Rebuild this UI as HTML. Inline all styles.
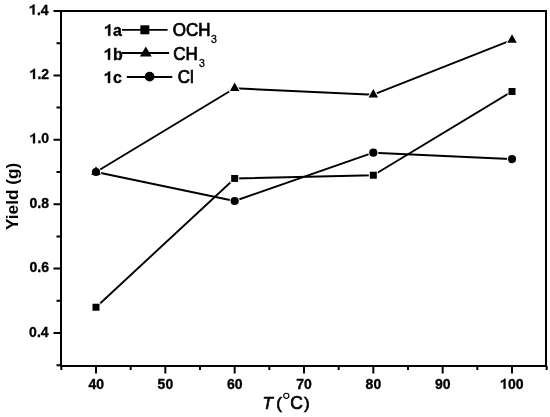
<!DOCTYPE html>
<html><head><meta charset="utf-8"><style>
html,body{margin:0;padding:0;background:#fff;}
body{width:550px;height:417px;overflow:hidden;}
svg{display:block;will-change:transform;}
text{font-family:"Liberation Sans",sans-serif;fill:#000;}
</style></head><body>
<svg width="550" height="417" viewBox="0 0 550 417">
<path d="M61.0 10.0V367.0M60.0 11.0H547.0M546.0 10.0V367.0M60.0 366.0H547.0" stroke="#000" stroke-width="2.0" fill="none"/>
<path d="M56.5 365.20H61.0M53.5 333.00H61.0M56.5 300.80H61.0M53.5 268.60H61.0M56.5 236.40H61.0M53.5 204.20H61.0M56.5 172.00H61.0M53.5 139.80H61.0M56.5 107.60H61.0M53.5 75.40H61.0M56.5 43.20H61.0M53.5 11.00H61.0M61.33 366.0V370M96.00 366.0V373.5M130.67 366.0V370M165.33 366.0V373.5M200.00 366.0V370M234.67 366.0V373.5M269.33 366.0V370M304.00 366.0V373.5M338.67 366.0V370M373.33 366.0V373.5M408.00 366.0V370M442.67 366.0V373.5M477.33 366.0V370M512.00 366.0V373.5M546.67 366.0V370" stroke="#000" stroke-width="2.0" fill="none"/>
<path transform="translate(29.11 14.50) scale(0.00684 -0.00684)" d="M505 0L785 0L785 1466L600 1466C560 1380 460 1270 300 1195C230 1165 170 1150 105 1135L105 880C260 930 400 1010 505 1090Z" fill="#000" stroke="#000" stroke-width="51.2"/>
<text transform="translate(36.90 14.50) scale(1 1.04)" style="font-size:14px;font-weight:bold;font-style:normal" stroke="#000" stroke-width="0.35">.4</text>
<path transform="translate(29.60 78.90) scale(0.00684 -0.00684)" d="M505 0L785 0L785 1466L600 1466C560 1380 460 1270 300 1195C230 1165 170 1150 105 1135L105 880C260 930 400 1010 505 1090Z" fill="#000" stroke="#000" stroke-width="51.2"/>
<text transform="translate(37.39 78.90) scale(1 1.04)" style="font-size:14px;font-weight:bold;font-style:normal" stroke="#000" stroke-width="0.35">.2</text>
<path transform="translate(29.61 143.30) scale(0.00684 -0.00684)" d="M505 0L785 0L785 1466L600 1466C560 1380 460 1270 300 1195C230 1165 170 1150 105 1135L105 880C260 930 400 1010 505 1090Z" fill="#000" stroke="#000" stroke-width="51.2"/>
<text transform="translate(37.40 143.30) scale(1 1.04)" style="font-size:14px;font-weight:bold;font-style:normal" stroke="#000" stroke-width="0.35">.0</text>
<text transform="translate(29.47 207.70) scale(1 1.04)" style="font-size:14px;font-weight:bold;font-style:normal" stroke="#000" stroke-width="0.35">0.8</text>
<text transform="translate(29.54 272.10) scale(1 1.04)" style="font-size:14px;font-weight:bold;font-style:normal" stroke="#000" stroke-width="0.35">0.6</text>
<text transform="translate(29.11 336.50) scale(1 1.04)" style="font-size:14px;font-weight:bold;font-style:normal" stroke="#000" stroke-width="0.35">0.4</text>
<text transform="translate(88.39 388.70) scale(1 1.04)" style="font-size:14px;font-weight:bold;font-style:normal" stroke="#000" stroke-width="0.35">40</text>
<text transform="translate(157.62 388.70) scale(1 1.04)" style="font-size:14px;font-weight:bold;font-style:normal" stroke="#000" stroke-width="0.35">50</text>
<text transform="translate(226.91 388.70) scale(1 1.04)" style="font-size:14px;font-weight:bold;font-style:normal" stroke="#000" stroke-width="0.35">60</text>
<text transform="translate(296.20 388.70) scale(1 1.04)" style="font-size:14px;font-weight:bold;font-style:normal" stroke="#000" stroke-width="0.35">70</text>
<text transform="translate(365.61 388.70) scale(1 1.04)" style="font-size:14px;font-weight:bold;font-style:normal" stroke="#000" stroke-width="0.35">80</text>
<text transform="translate(434.92 388.70) scale(1 1.04)" style="font-size:14px;font-weight:bold;font-style:normal" stroke="#000" stroke-width="0.35">90</text>
<path transform="translate(500.17 388.70) scale(0.00684 -0.00684)" d="M505 0L785 0L785 1466L600 1466C560 1380 460 1270 300 1195C230 1165 170 1150 105 1135L105 880C260 930 400 1010 505 1090Z" fill="#000" stroke="#000" stroke-width="51.2"/>
<text transform="translate(507.96 388.70) scale(1 1.04)" style="font-size:14px;font-weight:bold;font-style:normal" stroke="#000" stroke-width="0.35">00</text>
<text transform="translate(17.60 230.09) rotate(-90)" style="font-size:17.25px;font-weight:bold;font-style:normal">Yield</text>
<text transform="translate(17.60 184.65) rotate(-90)" style="font-size:17px;font-weight:bold;font-style:normal">(g)</text>
<text x="262.57" y="408.80" style="font-size:17px;font-weight:normal;font-style:italic" stroke="#000" stroke-width="0.7">T</text>
<text x="276.25" y="409.20" style="font-size:17px;font-weight:normal;font-style:normal" stroke="#000" stroke-width="0.7">(</text>
<circle cx="286.3" cy="395.8" r="2.6" fill="none" stroke="#000" stroke-width="1.1"/>
<text x="290.31" y="408.80" style="font-size:17.5px;font-weight:normal;font-style:normal" stroke="#000" stroke-width="0.7">C</text>
<text x="304.00" y="409.20" style="font-size:17px;font-weight:normal;font-style:normal" stroke="#000" stroke-width="0.7">)</text>
<polyline points="96.00,307.24 234.67,178.44 373.33,175.22 512.00,91.50" stroke="#000" stroke-width="1.9" fill="none" stroke-linejoin="round"/>
<polyline points="96.00,172.00 234.67,88.28 373.33,94.72 512.00,39.98" stroke="#000" stroke-width="1.9" fill="none" stroke-linejoin="round"/>
<polyline points="96.00,172.00 234.67,200.98 373.33,152.68 512.00,159.12" stroke="#000" stroke-width="1.9" fill="none" stroke-linejoin="round"/>
<rect x="92.50" y="303.74" width="7" height="7" fill="#fff" stroke="#fff" stroke-width="2.0"/>
<rect x="231.17" y="174.94" width="7" height="7" fill="#fff" stroke="#fff" stroke-width="2.0"/>
<rect x="369.83" y="171.72" width="7" height="7" fill="#fff" stroke="#fff" stroke-width="2.0"/>
<rect x="508.50" y="88.00" width="7" height="7" fill="#fff" stroke="#fff" stroke-width="2.0"/>
<circle cx="96.00" cy="172.00" r="5.1" fill="#fff"/>
<circle cx="234.67" cy="200.98" r="5.1" fill="#fff"/>
<circle cx="373.33" cy="152.68" r="5.1" fill="#fff"/>
<circle cx="512.00" cy="159.12" r="5.1" fill="#fff"/>
<path d="M96.00 166.24L100.80 174.84L91.20 174.84Z" fill="#fff" stroke="#fff" stroke-width="2.0" stroke-linejoin="round"/>
<path d="M234.67 82.52L239.47 91.12L229.87 91.12Z" fill="#fff" stroke="#fff" stroke-width="2.0" stroke-linejoin="round"/>
<path d="M373.33 88.96L378.13 97.56L368.53 97.56Z" fill="#fff" stroke="#fff" stroke-width="2.0" stroke-linejoin="round"/>
<path d="M512.00 34.22L516.80 42.82L507.20 42.82Z" fill="#fff" stroke="#fff" stroke-width="2.0" stroke-linejoin="round"/>
<rect x="92.50" y="303.74" width="7" height="7" fill="#000"/>
<rect x="231.17" y="174.94" width="7" height="7" fill="#000"/>
<rect x="369.83" y="171.72" width="7" height="7" fill="#000"/>
<rect x="508.50" y="88.00" width="7" height="7" fill="#000"/>
<circle cx="96.00" cy="172.00" r="4.1" fill="#000"/>
<circle cx="234.67" cy="200.98" r="4.1" fill="#000"/>
<circle cx="373.33" cy="152.68" r="4.1" fill="#000"/>
<circle cx="512.00" cy="159.12" r="4.1" fill="#000"/>
<path d="M96.00 166.24L100.80 174.84L91.20 174.84Z" fill="#000"/>
<path d="M234.67 82.52L239.47 91.12L229.87 91.12Z" fill="#000"/>
<path d="M373.33 88.96L378.13 97.56L368.53 97.56Z" fill="#000"/>
<path d="M512.00 34.22L516.80 42.82L507.20 42.82Z" fill="#000"/>
<path transform="translate(104.19 35.80) scale(0.00781 -0.00781)" d="M505 0L785 0L785 1466L600 1466C560 1380 460 1270 300 1195C230 1165 170 1150 105 1135L105 880C260 930 400 1010 505 1090Z" fill="#000" stroke="#000" stroke-width="44.8"/>
<text transform="translate(113.09 35.80) scale(1 1.04)" style="font-size:16px;font-weight:bold;font-style:normal" stroke="#000" stroke-width="0.35">a</text>
<path d="M122 29.8H167.6" stroke="#000" stroke-width="1.8"/>
<rect x="140.35" y="25.30" width="9" height="9" fill="#000"/>
<text transform="translate(172.79 36.10) scale(1 1.04)" style="font-size:17px;font-weight:normal;font-style:normal" stroke="#000" stroke-width="0.7">OCH</text>
<text x="210.90" y="42.50" style="font-size:10.5px;font-weight:normal;font-style:normal" stroke="#000" stroke-width="0.35">3</text>
<path transform="translate(103.99 59.80) scale(0.00781 -0.00781)" d="M505 0L785 0L785 1466L600 1466C560 1380 460 1270 300 1195C230 1165 170 1150 105 1135L105 880C260 930 400 1010 505 1090Z" fill="#000" stroke="#000" stroke-width="44.8"/>
<text transform="translate(112.89 59.80) scale(1 1.04)" style="font-size:16px;font-weight:bold;font-style:normal" stroke="#000" stroke-width="0.35">b</text>
<path d="M122 53H169.1" stroke="#000" stroke-width="1.8"/>
<path d="M145.8 46.5L151.7 56.5L139.9 56.5Z" fill="#000"/>
<text transform="translate(173.24 59.80) scale(1 1.04)" style="font-size:17px;font-weight:normal;font-style:normal" stroke="#000" stroke-width="0.7">CH</text>
<text x="199.00" y="66.80" style="font-size:10.5px;font-weight:normal;font-style:normal" stroke="#000" stroke-width="0.35">3</text>
<path transform="translate(103.99 82.90) scale(0.00781 -0.00781)" d="M505 0L785 0L785 1466L600 1466C560 1380 460 1270 300 1195C230 1165 170 1150 105 1135L105 880C260 930 400 1010 505 1090Z" fill="#000" stroke="#000" stroke-width="44.8"/>
<text transform="translate(112.89 82.90) scale(1 1.04)" style="font-size:16px;font-weight:bold;font-style:normal" stroke="#000" stroke-width="0.35">c</text>
<path d="M126.8 77H172.3" stroke="#000" stroke-width="1.8"/>
<circle cx="149.60" cy="76.60" r="4.9" fill="#000"/>
<text transform="translate(177.64 82.90) scale(1 1.04)" style="font-size:17px;font-weight:normal;font-style:normal" stroke="#000" stroke-width="0.7">Cl</text>
</svg>
</body></html>
